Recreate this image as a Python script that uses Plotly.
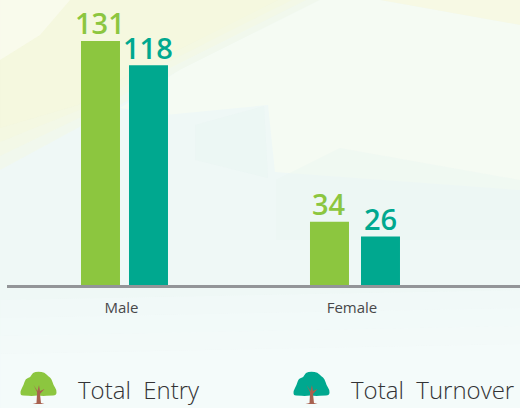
import plotly.graph_objects as go

categories = ["Male", "Female"]
entry_name = "Total Entry"
turnover_name = "Total Turnover"
entry_values = [131, 34]
turnover_values = [118, 26]

W, H = 520, 408
L, B = 7, 285
GREEN, TEAL = "#8CC63F", "#00A88F"
FONT = "Open Sans, Noto Sans, sans-serif"
BAR_W = 39 / 230.5

def px(x): return (x - L) / (W - L)
def py(y): return (B - y) / B

def poly(points, color, opacity=1.0):
    d = "M " + " L ".join(f"{px(x):.4f},{py(y):.4f}" for x, y in points) + " Z"
    return dict(type="path", path=d, xref="paper", yref="paper", fillcolor=color,
                opacity=opacity, line=dict(width=0), layer="below")

def blob(points, color):
    n = len(points)
    mid = lambda a, b: ((a[0] + b[0]) / 2, (a[1] + b[1]) / 2)
    s = mid(points[-1], points[0])
    d = f"M {px(s[0]):.4f},{py(s[1]):.4f}"
    for i in range(n):
        c = points[i]
        e = mid(c, points[(i + 1) % n])
        d += f" Q {px(c[0]):.4f},{py(c[1]):.4f} {px(e[0]):.4f},{py(e[1]):.4f}"
    return dict(type="path", path=d + " Z", xref="paper", yref="paper", fillcolor=color,
                line=dict(width=0), layer="below")

def tree(cx, color):
    top = 372.5
    lobes = [(-18, 18), (-15, 13), (-13, 6), (-8, 5), (-6, 0), (0, -1), (6, 0), (10, 4), (13, 6), (15, 13),
             (18, 17), (18, 23), (11, 23), (5, 23.5), (-1, 23), (-7, 23.5), (-13, 23), (-18, 23)]
    canopy = [(cx + a, top + b) for a, b in lobes]
    trunk = [(cx - 1.5, 394), (cx - 2, 403), (cx - 6, 404), (cx + 6, 404), (cx + 2.5, 403), (cx + 1.5, 394),
             (cx + 6, 389), (cx + 1.5, 391), (cx + 0.5, 385), (cx - 1, 391), (cx - 5, 385), (cx - 1.5, 392)]
    return [blob(canopy, color), poly(trunk, "#A8614F")]

shapes = [poly([(0, 0), (520, 0), (520, 408), (0, 408)], "#EFF8F6")]
for i, op in enumerate([0.35, 0.35, 0.4, 0.5]):
    d = i * 14
    shapes.append(poly([(0, 0), (320 - d, 0), (180 - d, 70), (120 - d, 105), (0, 170 - d)], "#F6F8DC", op))
shapes += [
    poly([(0, 0), (70, 0), (40, 35), (0, 60)], "#FEFEFA", 0.5),
    poly([(320, 0), (380, 0), (520, 25), (520, 190), (275, 172), (268, 105), (165, 115), (120, 108), (180, 70)], "#F5FBF3"),
    poly([(380, 0), (520, 0), (520, 25)], "#F7F9E4"),
    poly([(276, 180), (340, 148), (520, 180), (520, 240), (276, 240)], "#EBF6F1", 0.45),
    poly([(195, 125), (264, 106), (268, 178), (195, 160)], "#E4F2EF", 0.25),
]
for i, op in enumerate([0.3, 0.3, 0.4, 0.5]):
    shapes.append(poly([(0, 300 + i * 18), (520, 290 + i * 18), (520, 408), (0, 408)], "#F5FBFB", op))
shapes += tree(38.5, GREEN) + tree(311.5, TEAL)

fig = go.Figure()
annotations = []
for name, values, color, offsets in [
    (entry_name, entry_values, GREEN, [-40.5 / 230.5, -42 / 230.5]),
    (turnover_name, turnover_values, TEAL, [7.5 / 230.5, 9 / 230.5]),
]:
    fig.add_bar(x=categories, y=values, name=name, marker_color=color, marker_line_width=0,
                width=BAR_W, offset=offsets, cliponaxis=False)
    for cat, val, off in zip(categories, values, offsets):
        annotations.append(dict(x=cat, y=val, text=str(val), showarrow=False, yanchor="bottom",
                                xanchor="center", xshift=(off * 230.5) + 19.5, yshift=-3.5,
                                font=dict(color=color, size=29, family=FONT, weight=600)))

def legend_label(text, x):
    return dict(text=text.replace(" ", "\u00a0\u00a0"), xref="paper", yref="paper", x=px(x), y=py(389),
                xanchor="left", yanchor="middle", showarrow=False,
                font=dict(size=24, color="#333335", family=FONT, weight=300))

annotations += [legend_label(entry_name, 76), legend_label(turnover_name, 349)]

fig.update_layout(
    width=W, height=H, margin=dict(l=L, r=0, t=0, b=H - B, autoexpand=False),
    paper_bgcolor="#EFF8F6", plot_bgcolor="rgba(0,0,0,0)",
    barmode="overlay", showlegend=False, shapes=shapes, annotations=annotations,
    xaxis=dict(type="category", range=[-0.4967, 1.7289], showline=True, linewidth=3, linecolor="#939598",
               ticks="", showgrid=False, tickfont=dict(size=15, color="#48484a", family=FONT),
               ticklabelstandoff=7),
    yaxis=dict(range=[0, B / 1.863], visible=False, showgrid=False, zeroline=False),
)
fig.write_html("out.html", config=dict(displayModeBar=False), post_script="document.body.style.margin='0';")
